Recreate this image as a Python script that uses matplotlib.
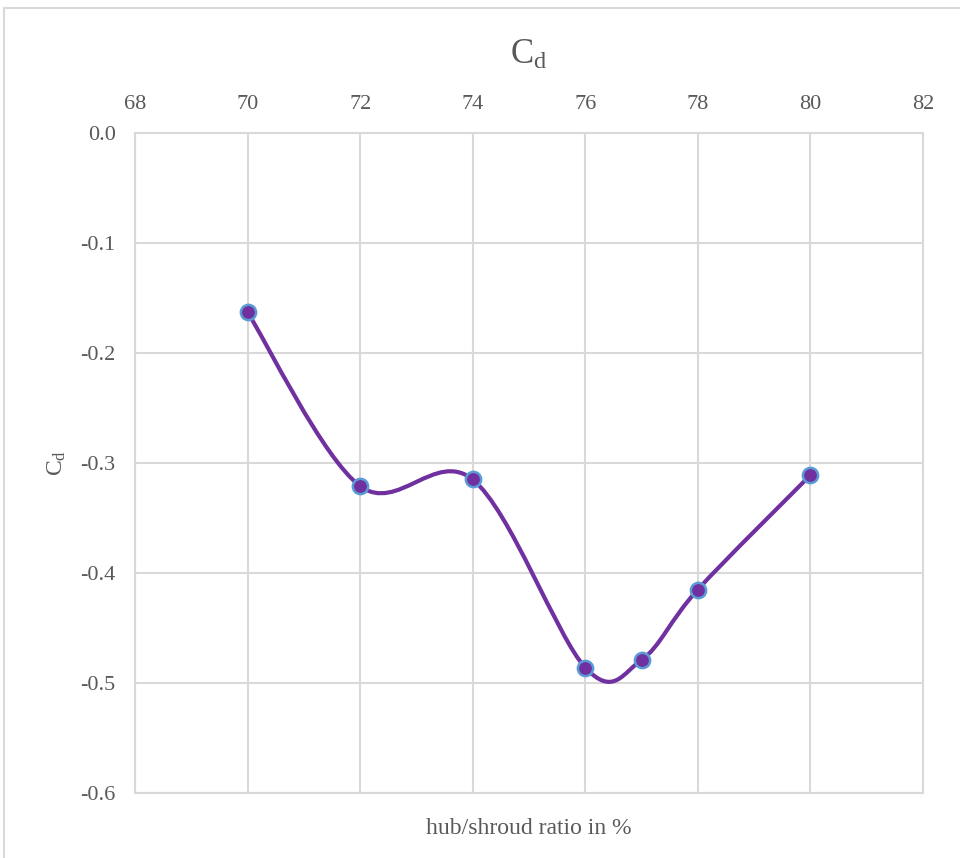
import matplotlib
matplotlib.use("Agg")
import matplotlib.pyplot as plt
from matplotlib.path import Path
from matplotlib.patches import PathPatch, Rectangle
import numpy as np

plt.rcParams['font.family'] = ['Liberation Serif', 'DejaVu Serif']
plt.rcParams['mathtext.fontset'] = 'custom'
plt.rcParams['mathtext.rm'] = 'Liberation Serif'
plt.rcParams['mathtext.it'] = 'Liberation Serif'

# hub/shroud ratio (%) and drag coefficient
ratio = [70, 72, 74, 76, 77, 78, 80]
cd = [-0.163, -0.321, -0.315, -0.486, -0.479, -0.415, -0.311]
x_ticks = [68, 70, 72, 74, 76, 78, 80, 82]
y_ticks = [0.0, -0.1, -0.2, -0.3, -0.4, -0.5, -0.6]

text_c = '#595959'
grid_c = '#D9D9D9'
line_c = '#7030A0'
edge_c = '#5B9BD5'

fig = plt.figure(figsize=(9.6, 8.58), dpi=100)
fig.patches.append(Rectangle((4 / 960, -0.05), 1.2, 1 - 8 / 858 + 0.05,
                             transform=fig.transFigure, fill=False,
                             edgecolor=grid_c, linewidth=1.5))

ax = fig.add_axes([135 / 960, 1 - 793 / 858, (923 - 135) / 960, (793 - 133) / 858])
ax.set_xlim(68, 82)
ax.set_ylim(-0.6, 0.0)
ax.set_xticks(x_ticks)
ax.set_yticks(y_ticks)
ax.set_xticklabels([str(v) for v in x_ticks])
ax.set_yticklabels([f"{v:.1f}" for v in y_ticks])
ax.xaxis.tick_top()
ax.tick_params(axis='both', length=0, labelsize=16, colors=text_c)
ax.tick_params(axis='x', pad=14)
ax.tick_params(axis='y', pad=14)
ax.grid(True, color=grid_c, linewidth=1.5)
ax.set_axisbelow(True)
for s in ax.spines.values():
    s.set_color(grid_c)
    s.set_linewidth(1.5)

# smoothed connecting line as cubic Bezier segments (Catmull-Rom style)
pts = np.column_stack([ratio, cd]).astype(float)
n = len(pts)
verts = [tuple(pts[0])]
codes = [Path.MOVETO]
for i in range(n - 1):
    p_prev = pts[i - 1] if i > 0 else pts[i]
    p0 = pts[i]
    p1 = pts[i + 1]
    p_next = pts[i + 2] if i + 2 < n else pts[i + 1]
    c1 = p0 + (p1 - p_prev) / 6.0
    c2 = p1 - (p_next - p0) / 6.0
    verts += [tuple(c1), tuple(c2), tuple(p1)]
    codes += [Path.CURVE4] * 3
ax.add_patch(PathPatch(Path(verts, codes), facecolor='none', edgecolor=line_c,
                       linewidth=3, zorder=3, capstyle='round', joinstyle='round'))

ax.plot(ratio, cd, linestyle='none', marker='o', markersize=11,
        markerfacecolor=line_c, markeredgecolor=edge_c, markeredgewidth=1.8,
        zorder=4)

fig.text(0.5 * (135 + 923) / 960, 1 - 55 / 858, r'$\mathrm{C}_\mathrm{d}$',
         ha='center', va='center', fontsize=25, color=text_c)
fig.text(57 / 960, 1 - 463 / 858, r'$\mathrm{C}_\mathrm{d}$', rotation=90,
         ha='center', va='center', fontsize=17, color=text_c)
fig.text(0.5 * (135 + 923) / 960, 1 - 829 / 858, 'hub/shroud ratio in %',
         ha='center', va='center', fontsize=17, color=text_c)

fig.savefig('out.png', dpi=100)
